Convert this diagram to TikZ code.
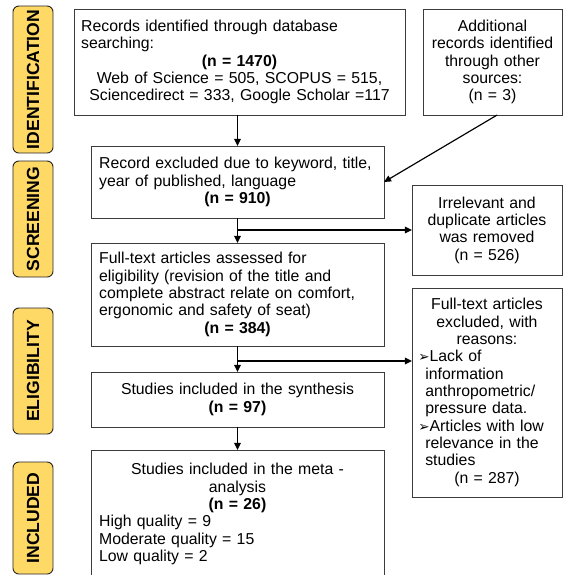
\documentclass[tikz,border=0pt]{standalone}
\usepackage{fontspec}
\setmainfont{Liberation Sans}
\newfontfamily\bulletfont{DejaVu Sans}
\usetikzlibrary{arrows.meta}
\definecolor{labelyellow}{RGB}{255,217,102}
\definecolor{boxline}{RGB}{60,60,60}
\setlength{\parindent}{0pt}
\newcommand{\bul}{{\bulletfont\fontsize{11.5}{11.5}\selectfont ➢}}

\begin{document}
\begin{tikzpicture}[x=0.03cm, y=-0.03cm,
    box/.style={rectangle, draw=boxline, line width=0.8pt, inner sep=0pt, outer sep=0pt,
      font=\fontsize{13.5}{14.8}\selectfont},
    stage/.style={rectangle, draw=black!85, line width=0.8pt, fill=labelyellow,
      rounded corners=5pt, rotate=90, minimum height=1.2cm, inner sep=0pt, outer sep=0pt,
      font=\fontsize{15}{17}\selectfont\bfseries},
    arr/.style={-{Triangle[length=6pt,width=5.5pt]}, line width=1.3pt},
    thinarr/.style={-{Triangle[length=6pt,width=5.5pt]}, line width=1pt}]
    \useasboundingbox (0,0) rectangle (563,575);
    \clip (0,0) rectangle (563,575);

    % 段階のラベル
    \node[stage, minimum width=4.41cm] (ident_label) at (33,79.5) {IDENTIFICATION};
    \node[stage, minimum width=3.48cm] (screen_label) at (33,219) {SCREENING};
    \node[stage, minimum width=3.78cm] (elig_label) at (33,371) {ELIGIBILITY};
    \node[stage, minimum width=3.36cm] (incl_label) at (33,518) {INCLUDED};

    % 各ボックス
    \node[box, minimum width=9.93cm, minimum height=3.18cm, text width=9.5cm] (A) at (239.5,62) {
      {\raggedright Records identified through database\par searching:\par}
      {\centering\textbf{(n = 1470)}\par Web of Science = 505, SCOPUS = 515,\par
        Sciencedirect = 333, Google Scholar =117\par}};
    \node[box, minimum width=4.17cm, minimum height=3.18cm, text width=4cm] (B) at (492.5,62) {
      {\centering Additional\par records identified\par through other\par sources:\par (n = 3)\par}};
    \node[box, minimum width=8.79cm, minimum height=2.16cm, text width=8.3cm] (C) at (237.5,182) {
      {\raggedright Record excluded due to keyword, title,\par year of published, language\par}
      {\centering\textbf{(n = 910)}\par}};
    \node[box, minimum width=4.5cm, minimum height=2.7cm, text width=4.2cm] (D) at (487,230) {
      {\centering Irrelevant and\par duplicate articles\par was removed\par (n = 526)\par}};
    \node[box, minimum width=8.79cm, minimum height=3.09cm, text width=8.3cm] (E) at (237.5,294.5) {
      {\raggedright Full-text articles assessed for\par eligibility (revision of the title and\par
        complete abstract relate on comfort,\par ergonomic and safety of seat)\par}
      {\centering\textbf{(n = 384)}\par}};
    \node[box, minimum width=4.5cm, minimum height=6.27cm, text width=4.3cm] (F) at (487,392.5) {
      {\centering Full-text articles\par excluded, with\par reasons:\par}
      {\raggedright \hspace*{0.09cm}\bul Lack of\par \hspace*{0.3cm}information\par
        \hspace*{0.3cm}anthropometric/\par \hspace*{0.3cm}pressure data.\par
        \hspace*{0.09cm}\bul Articles with low\par \hspace*{0.3cm}relevance in the\par
        \hspace*{0.3cm}studies\par}
      {\centering (n = 287)\par}};
    \node[box, minimum width=8.79cm, minimum height=1.65cm, text width=8.3cm] (G) at (237.5,399.5) {
      {\centering Studies included in the synthesis\par \textbf{(n = 97)}\par}};
    \node[box, minimum width=8.79cm, minimum height=3.84cm, text width=8.3cm] (H) at (237.5,514) {
      {\centering Studies included in the meta -\par analysis\par \textbf{(n = 26)}\par}
      {\raggedright High quality = 9\par Moderate quality = 15\par Low quality = 2\par}};

    \coordinate (split1) at (C.south |- D.west);
    \coordinate (split2) at (237.5,361);

    \draw[arr] (C.north |- A.south) -- (C.north);
    \draw[thinarr] ([xshift=0.14cm]B.south) -- (C.east);
    \draw[arr] (C.south) -- (E.north);
    \draw[arr] (split1) -- (D.west);
    \draw[arr] (E.south) -- (G.north);
    \draw[arr] (split2) -- (split2 -| F.west);
    \draw[arr] (G.south) -- (H.north);

\end{tikzpicture}
\end{document}
